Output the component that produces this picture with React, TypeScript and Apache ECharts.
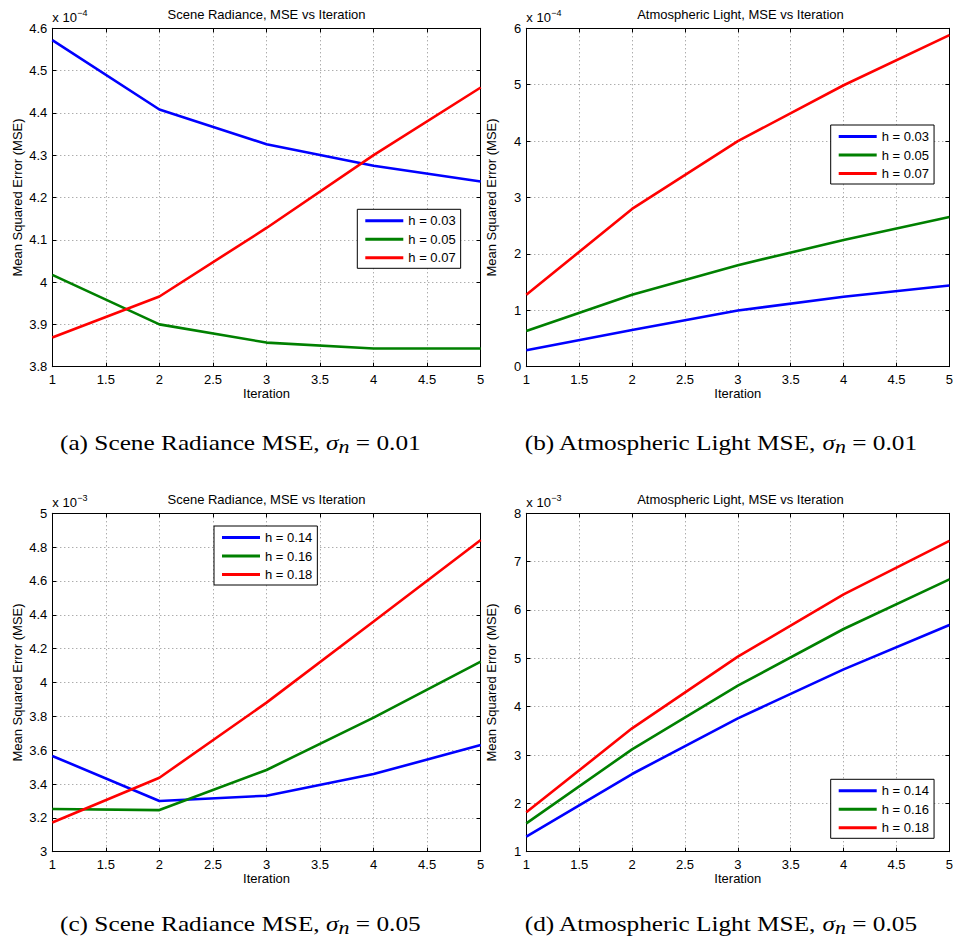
import React, { useEffect, useRef } from 'react';
import * as echarts from 'echarts';

// ---------- data ----------
const iterations = [1, 2, 3, 4, 5];

const namesLowNoise = ['h = 0.03', 'h = 0.05', 'h = 0.07'];
const namesHighNoise = ['h = 0.14', 'h = 0.16', 'h = 0.18'];

// (a) Scene Radiance MSE, sigma_n = 0.01  (x 10^-4)
const sceneLowBlue = [4.572, 4.408, 4.326, 4.275, 4.238];
const sceneLowGreen = [4.017, 3.9, 3.857, 3.843, 3.843];
const sceneLowRed = [3.869, 3.966, 4.128, 4.3, 4.46];

// (b) Atmospheric Light MSE, sigma_n = 0.01  (x 10^-4)
const atmoLowBlue = [0.29, 0.652, 0.996, 1.239, 1.44];
const atmoLowGreen = [0.634, 1.274, 1.8, 2.247, 2.656];
const atmoLowRed = [1.274, 2.798, 4.0, 4.99, 5.88];

// (c) Scene Radiance MSE, sigma_n = 0.05  (x 10^-3)
const sceneHighBlue = [3.566, 3.3, 3.331, 3.459, 3.63];
const sceneHighGreen = [3.252, 3.246, 3.483, 3.792, 4.123];
const sceneHighRed = [3.173, 3.437, 3.881, 4.36, 4.842];

// (d) Atmospheric Light MSE, sigma_n = 0.05  (x 10^-3)
const atmoHighBlue = [1.31, 2.607, 3.759, 4.772, 5.69];
const atmoHighGreen = [1.586, 3.117, 4.434, 5.607, 6.634];
const atmoHighRed = [1.814, 3.552, 5.034, 6.324, 7.428];

const plotTitles = [
  'Scene Radiance, MSE vs Iteration',
  'Atmospheric Light, MSE vs Iteration',
  'Scene Radiance, MSE vs Iteration',
  'Atmospheric Light, MSE vs Iteration',
];
const exponents = ['−4', '−4', '−3', '−3'];
const captionLabels = [
  '(a) Scene Radiance MSE, ',
  '(b) Atmospheric Light MSE, ',
  '(c) Scene Radiance MSE, ',
  '(d) Atmospheric Light MSE, ',
];
const captionValues = [' = 0.01', ' = 0.01', ' = 0.05', ' = 0.05'];
const yRanges = [
  [3.8, 4.6, 0.1],
  [0, 6, 1],
  [3, 5, 0.2],
  [1, 8, 1],
];
const xRange = [1, 5, 0.5];
const xName = 'Iteration';
const yName = 'Mean Squared Error (MSE)';

// ---------- layout / style ----------
const SANS = '"Liberation Sans", Arial, Helvetica, sans-serif';
const SERIF = '"Liberation Serif", "Times New Roman", serif';
const COLORS = ['#0000ff', '#008000', '#ff0000'];
const W = 428.4;
const H = 338.4;
const POS = [
  { x: 52.3, y: 28.3, lx: 357.3, ly: 209.3, cx: 240.3, cy: 442.5 },
  { x: 526.3, y: 28.3, lx: 830.7, ly: 125, cx: 720.5, cy: 442.5 },
  { x: 52.3, y: 513.3, lx: 214, ly: 526, cx: 240.3, cy: 923.3 },
  { x: 526.3, y: 513.3, lx: 830.7, ly: 779.3, cx: 720.5, cy: 923.3 },
];

function buildOption() {
  const panelData = [
    [sceneLowBlue, sceneLowGreen, sceneLowRed],
    [atmoLowBlue, atmoLowGreen, atmoLowRed],
    [sceneHighBlue, sceneHighGreen, sceneHighRed],
    [atmoHighBlue, atmoHighGreen, atmoHighRed],
  ];
  const panelNames = [namesLowNoise, namesLowNoise, namesHighNoise, namesHighNoise];

  const grid: any[] = [];
  const xAxis: any[] = [];
  const yAxis: any[] = [];
  const series: any[] = [];
  const legend: any[] = [];
  const graphic: any[] = [];

  const textStyle = { color: '#000', fontSize: 13, fontFamily: SANS };
  const tick = { show: true, inside: true, length: 4, lineStyle: { color: '#000', width: 1 } };
  const line = { show: true, onZero: false, lineStyle: { color: '#000', width: 1 } };
  const split = { show: true, lineStyle: { color: '#8a8a8a', width: 1, type: [1, 3] } };

  POS.forEach((p, i) => {
    const [ymin, ymax, yint] = yRanges[i];
    grid.push({ left: p.x, top: p.y, width: W, height: H });
    xAxis.push({
      gridIndex: i, type: 'value', position: 'bottom',
      min: xRange[0], max: xRange[1], interval: xRange[2],
      axisLine: line, axisTick: tick,
      axisLabel: { ...textStyle, margin: 6 },
      splitLine: split,
      name: xName, nameLocation: 'middle', nameGap: 20,
      nameTextStyle: textStyle,
    });
    xAxis.push({
      gridIndex: i, type: 'value', position: 'top',
      min: xRange[0], max: xRange[1], interval: xRange[2],
      axisLine: line, axisTick: tick,
      axisLabel: { show: false }, splitLine: { show: false },
    });
    yAxis.push({
      gridIndex: i, type: 'value', position: 'left',
      min: ymin, max: ymax, interval: yint,
      axisLine: line, axisTick: tick,
      axisLabel: { ...textStyle, margin: 5 },
      splitLine: split,
      name: yName, nameLocation: 'middle', nameGap: 28,
      nameTextStyle: textStyle,
    });
    yAxis.push({
      gridIndex: i, type: 'value', position: 'right',
      min: ymin, max: ymax, interval: yint,
      axisLine: line, axisTick: tick,
      axisLabel: { show: false }, splitLine: { show: false },
    });
    panelData[i].forEach((vals, k) => {
      series.push({
        type: 'line',
        name: panelNames[i][k],
        xAxisIndex: 2 * i,
        yAxisIndex: 2 * i,
        data: iterations.map((x, j) => [x, vals[j]]),
        symbol: 'none',
        showSymbol: false,
        silent: true,
        lineStyle: { color: COLORS[k], width: 2.6 },
        itemStyle: { color: COLORS[k] },
        z: 3,
      });
    });
    legend.push({
      data: panelNames[i],
      orient: 'vertical',
      left: p.lx,
      top: p.ly,
      icon: 'rect',
      itemWidth: 38,
      itemHeight: 3,
      itemGap: 5.5,
      padding: [5, 5, 4, 8],
      borderColor: '#000',
      borderWidth: 1,
      backgroundColor: '#fff',
      selectedMode: false,
      textStyle: textStyle,
      z: 10,
    });
    // title
    graphic.push({
      type: 'text',
      x: p.x + W / 2,
      y: p.y - 14.3,
      silent: true,
      style: {
        text: plotTitles[i], fill: '#000', fontSize: 13, fontFamily: SANS,
        align: 'center', verticalAlign: 'middle',
      },
    });
    // exponent
    graphic.push({
      type: 'text', x: p.x, y: p.y - 10.8, silent: true,
      style: { text: 'x 10', fill: '#000', fontSize: 13, fontFamily: SANS, align: 'left', verticalAlign: 'middle' },
    });
    graphic.push({
      type: 'text', x: p.x + 25, y: p.y - 15.8, silent: true,
      style: { text: exponents[i], fill: '#000', fontSize: 9, fontFamily: SANS, align: 'left', verticalAlign: 'middle' },
    });
    // caption
    graphic.push({
      type: 'text', x: p.cx, y: p.cy, scaleX: 1.15, silent: true,
      style: {
        text: `{r|${captionLabels[i]}}{i|σ}{s|n}{r|${captionValues[i]}}`,
        align: 'center', verticalAlign: 'middle',
        rich: {
          r: { fontFamily: SERIF, fontSize: 22, fill: '#000', lineHeight: 27 },
          i: { fontFamily: SERIF, fontSize: 22, fontStyle: 'italic', fill: '#000', lineHeight: 27 },
          s: { fontFamily: SERIF, fontSize: 19, fontStyle: 'italic', fill: '#000', verticalAlign: 'bottom' },
        },
      },
    });
  });

  return {
    animation: false,
    backgroundColor: '#fff',
    grid, xAxis, yAxis, series, legend, graphic,
  };
}

export default function App() {
  const ref = useRef<HTMLDivElement>(null);
  useEffect(() => {
    if (!ref.current) return;
    const chart = echarts.init(ref.current, undefined, { renderer: 'svg' });
    chart.setOption(buildOption() as any);
    return () => chart.dispose();
  }, []);
  return (
    <div
      ref={ref}
      style={{ position: 'absolute', left: 0, top: 0, width: 956, height: 942, background: '#fff' }}
    />
  );
}
